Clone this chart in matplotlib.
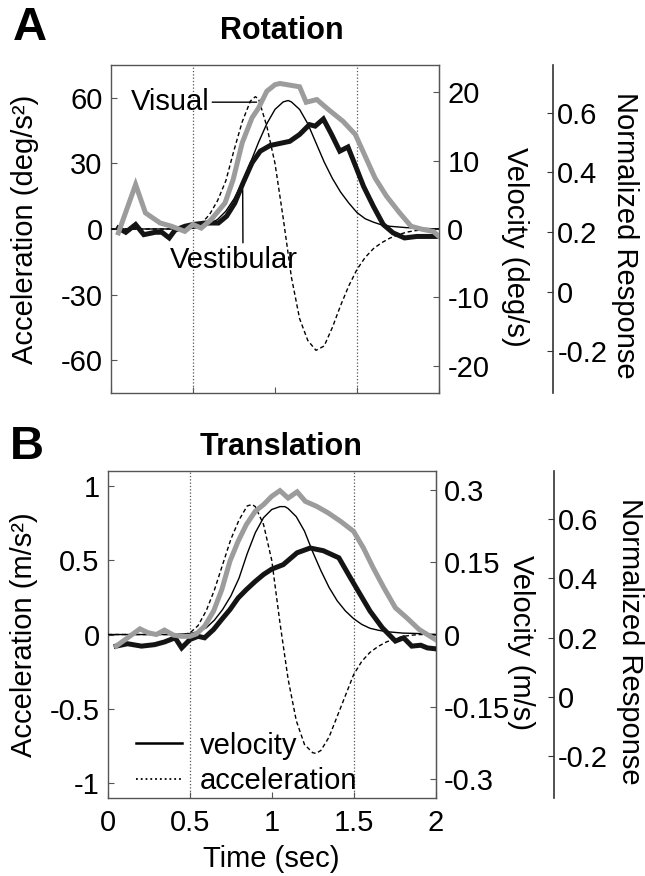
import matplotlib
matplotlib.use("Agg")
import matplotlib.pyplot as plt
from matplotlib.lines import Line2D

plt.rcParams['font.family'] = ['Liberation Sans', 'DejaVu Sans']

# ---- Rotation (panel A) ----
rot_vel_t = [0, 0.4, 0.5, 0.55, 0.6, 0.65, 0.7, 0.75, 0.8, 0.85, 0.9, 0.95, 1.0, 1.05,
             1.08, 1.1, 1.15, 1.2, 1.25, 1.3, 1.35, 1.4, 1.45, 1.5, 1.55, 1.6, 1.65,
             1.7, 1.75, 1.8, 1.9, 2.0]
rot_vel = [0, 0, 0.1, 0.3, 0.7, 1.4, 2.6, 4.4, 6.8, 9.7, 12.7, 15.4, 17.5, 18.6,
           18.8, 18.6, 17.5, 15.4, 12.6, 9.8, 7.4, 5.4, 3.8, 2.4, 1.5, 1.0, 0.6,
           0.4, 0.3, 0.2, 0.1, 0]

rot_acc_t = [0, 0.45, 0.5, 0.55, 0.6, 0.65, 0.7, 0.75, 0.8, 0.85, 0.88, 0.9, 0.95, 1.0,
             1.05, 1.1, 1.15, 1.2, 1.25, 1.3, 1.35, 1.4, 1.45, 1.5, 1.55, 1.6, 1.65,
             1.7, 1.75, 1.8, 1.85, 1.9, 2.0]
rot_acc = [0, 0, 0.5, 2.5, 6.5, 13, 22, 36, 49, 58.5, 60.5, 59.5, 47, 30,
           5, -22, -41, -51, -55.5, -53.5, -45, -35, -26, -18.5, -13, -9, -6.3,
           -4.2, -2.7, -1.5, -0.8, -0.4, 0]

rot_visual_t = [0.045, 0.15, 0.21, 0.30, 0.37, 0.45, 0.50, 0.55, 0.61, 0.695,
                0.745, 0.80, 0.86, 0.90, 0.95, 1.00, 1.03, 1.15, 1.19, 1.255,
                1.325, 1.415, 1.49, 1.55, 1.61, 1.68, 1.76, 1.83, 1.905, 1.965, 2.0]
rot_visual = [0.197, 0.359, 0.264, 0.230, 0.219, 0.202, 0.225, 0.213, 0.241, 0.297,
              0.376, 0.499, 0.583, 0.616, 0.672, 0.694, 0.698, 0.687, 0.635, 0.644,
              0.611, 0.571, 0.527, 0.454, 0.381, 0.320, 0.264, 0.219, 0.208, 0.202, 0.185]

rot_vest_t = [0.045, 0.09, 0.15, 0.20, 0.27, 0.31, 0.355, 0.39, 0.45, 0.50,
              0.575, 0.655, 0.705, 0.755, 0.805, 0.86, 0.91, 0.97, 1.09, 1.15,
              1.21, 1.245, 1.295, 1.345, 1.395, 1.445, 1.50, 1.54, 1.60, 1.66,
              1.72, 1.79, 1.865, 1.925, 2.0]
rot_vest = [0.213, 0.199, 0.225, 0.191, 0.199, 0.199, 0.180, 0.206, 0.219, 0.225,
            0.230, 0.230, 0.253, 0.297, 0.364, 0.432, 0.471, 0.490, 0.504, 0.527,
            0.560, 0.555, 0.579, 0.527, 0.471, 0.485, 0.409, 0.353, 0.286, 0.225,
            0.197, 0.180, 0.185, 0.185, 0.185]

# ---- Translation (panel B) ----
tr_vel_t = [0, 0.4, 0.5, 0.55, 0.6, 0.65, 0.7, 0.75, 0.8, 0.85, 0.9, 0.95, 1.0, 1.05,
            1.08, 1.1, 1.15, 1.2, 1.25, 1.3, 1.35, 1.4, 1.45, 1.5, 1.55, 1.6, 1.65,
            1.7, 1.8, 1.9, 2.0]
tr_vel = [0, 0, 0.002, 0.006, 0.014, 0.030, 0.052, 0.080, 0.117, 0.168, 0.212, 0.243,
          0.260, 0.266, 0.266, 0.262, 0.245, 0.215, 0.172, 0.133, 0.098, 0.070, 0.049,
          0.033, 0.021, 0.013, 0.009, 0.006, 0.003, 0.002, 0]

tr_acc_t = [0, 0.45, 0.5, 0.55, 0.6, 0.65, 0.7, 0.75, 0.8, 0.85, 0.88, 0.9, 0.95, 1.0,
            1.05, 1.1, 1.15, 1.2, 1.25, 1.27, 1.3, 1.35, 1.4, 1.45, 1.5, 1.55, 1.6,
            1.65, 1.7, 1.75, 1.8, 1.85, 1.9, 2.0]
tr_acc = [0, 0, 0.01, 0.06, 0.16, 0.30, 0.47, 0.64, 0.77, 0.865, 0.875, 0.86, 0.74, 0.50,
          0.08, -0.30, -0.58, -0.74, -0.795, -0.80, -0.78, -0.69, -0.55, -0.41, -0.27,
          -0.18, -0.12, -0.08, -0.05, -0.03, -0.013, -0.005, 0, 0]

tr_visual_t = [0.05, 0.12, 0.195, 0.245, 0.295, 0.345, 0.40, 0.45, 0.50, 0.54,
               0.59, 0.645, 0.695, 0.745, 0.795, 0.845, 0.90, 0.95, 1.00, 1.05,
               1.10, 1.155, 1.205, 1.275, 1.345, 1.42, 1.50, 1.56, 1.62, 1.685,
               1.755, 1.825, 1.90, 2.0]
tr_visual = [0.171, 0.199, 0.229, 0.216, 0.210, 0.225, 0.208, 0.204, 0.204, 0.212,
             0.238, 0.289, 0.361, 0.457, 0.524, 0.580, 0.625, 0.647, 0.675, 0.694,
             0.669, 0.690, 0.658, 0.641, 0.619, 0.591, 0.557, 0.501, 0.434, 0.367,
             0.300, 0.266, 0.227, 0.193]

tr_vest_t = [0.05, 0.12, 0.205, 0.285, 0.345, 0.41, 0.45, 0.50, 0.55, 0.59,
             0.645, 0.695, 0.745, 0.795, 0.845, 0.90, 0.95, 1.00, 1.07, 1.155,
             1.235, 1.315, 1.41, 1.48, 1.54, 1.60, 1.675, 1.755, 1.805, 1.855,
             1.91, 1.95, 2.0]
tr_vest = [0.171, 0.179, 0.171, 0.176, 0.185, 0.199, 0.165, 0.193, 0.204, 0.199,
           0.227, 0.261, 0.294, 0.333, 0.361, 0.389, 0.412, 0.430, 0.445, 0.485,
           0.501, 0.492, 0.468, 0.401, 0.345, 0.289, 0.233, 0.188, 0.199, 0.171,
           0.174, 0.165, 0.162]

event_times = [0.5, 1.5]
time_ticks = [0, 0.5, 1, 1.5, 2]
time_labels = ['0', '0.5', '1', '1.5', '2']
norm_ticks = [-0.2, 0, 0.2, 0.4, 0.6]
norm_labels = ['-0.2', '0', '0.2', '0.4', '0.6']

FS = 21
SPINE = '#555555'
GRAY = '#9c9c9c'

fig = plt.figure(figsize=(6.45, 8.76), dpi=100)


def panel(rect, acc_lim, acc_ticks, acc_labels, acc_name,
          vel_lim, vel_ticks, vel_labels, vel_name,
          label_x, norm_x, show_time):
    ax = fig.add_axes(rect)
    axv = ax.twinx()
    axn = ax.twinx()

    for s in ax.spines.values():
        s.set_color(SPINE)
        s.set_linewidth(1.0)
    for s in axv.spines.values():
        s.set_visible(False)
    axv.spines['right'].set_visible(True)
    axv.spines['right'].set_color(SPINE)
    for s in axn.spines.values():
        s.set_visible(False)
    axn.spines['right'].set_visible(True)
    axn.spines['right'].set_position(('axes', norm_x))
    axn.spines['right'].set_color('#333333')
    axn.spines['right'].set_linewidth(1.2)

    ax.set_xlim(0, 2)
    ax.set_ylim(*acc_lim)
    ax.set_yticks(acc_ticks)
    ax.set_yticklabels(acc_labels)
    ax.set_xticks(time_ticks)
    if show_time:
        ax.set_xticklabels(time_labels)
        ax.set_xlabel('Time (sec)', fontsize=FS, labelpad=6)
    else:
        ax.set_xticklabels([])
    ax.tick_params(axis='both', direction='in', length=4, labelsize=FS,
                   color=SPINE, pad=6)
    ax.tick_params(axis='x', pad=8)
    ax.set_ylabel(acc_name, fontsize=FS)
    ax.yaxis.set_label_coords(label_x[0], 0.5)

    axv.set_ylim(*vel_lim)
    axv.set_yticks(vel_ticks)
    axv.set_yticklabels(vel_labels)
    axv.tick_params(axis='y', direction='in', length=4, labelsize=FS,
                    color=SPINE, pad=6)
    axv.set_ylabel(vel_name, fontsize=FS, rotation=270, va='center')
    axv.yaxis.set_label_coords(label_x[1], label_x[2])

    axn.set_ylim(-0.34, 0.76)
    axn.set_yticks(norm_ticks)
    axn.set_yticklabels(norm_labels)
    axn.tick_params(axis='y', direction='in', length=4, labelsize=FS,
                    color='#333333', pad=3)
    axn.set_ylabel('Normalized Response', fontsize=FS, rotation=270, va='center')
    axn.yaxis.set_label_coords(label_x[3], label_x[4])

    for t in event_times:
        ax.axvline(t, color='#555555', ls=':', lw=0.9, zorder=1)
    return ax, axv, axn


# Panel A
axA, axAv, axAn = panel([0.1721, 0.5514, 0.5085, 0.3744],
                        (-75, 75), [-60, -30, 0, 30, 60], ['-60', '-30', '0', '30', '60'],
                        'Acceleration (deg/s²)',
                        (-24, 24), [-20, -10, 0, 10, 20], ['-20', '-10', '0', '10', '20'],
                        'Velocity (deg/s)',
                        (-0.22, 1.232, 0.445, 1.567, 0.482), 1.348, False)
axA.plot(rot_acc_t, rot_acc, color='k', lw=1.0, dashes=(3, 2))
axAv.plot(rot_vel_t, rot_vel, color='k', lw=1.0)
axAn.plot(rot_vest_t, rot_vest, color='#141414', lw=3.6, solid_joinstyle='miter')
axAn.plot(rot_visual_t, rot_visual, color=GRAY, lw=3.6, solid_joinstyle='miter')
axA.annotate('Visual', xy=(0.888, 58), xytext=(0.36, 58), fontsize=FS,
             ha='center', va='center',
             arrowprops=dict(arrowstyle='-', color='k', lw=1.0, shrinkA=0, shrinkB=0))
axA.annotate('Vestibular', xy=(0.803, 18), xytext=(0.75, -14), fontsize=FS,
             ha='center', va='center',
             arrowprops=dict(arrowstyle='-', color='k', lw=1.0, shrinkA=0, shrinkB=0,
                             relpos=(0.57, 1.0)))

# Panel B
axB, axBv, axBn = panel([0.1674, 0.0890, 0.5078, 0.3733],
                        (-1.1, 1.1), [-1, -0.5, 0, 0.5, 1], ['-1', '-0.5', '0', '0.5', '1'],
                        'Acceleration (m/s²)',
                        (-0.34, 0.34), [-0.3, -0.15, 0, 0.15, 0.3],
                        ['-0.3', '-0.15', '0', '0.15', '0.3'],
                        'Velocity (m/s)',
                        (-0.215, 1.261, 0.477, 1.594, 0.48), 1.362, True)
axB.plot(tr_acc_t, tr_acc, color='k', lw=1.0, dashes=(3, 2))
axBv.plot(tr_vel_t, tr_vel, color='k', lw=1.0)
axBn.plot(tr_vest_t, tr_vest, color='#141414', lw=3.6, solid_joinstyle='miter')
axBn.plot(tr_visual_t, tr_visual, color=GRAY, lw=3.6, solid_joinstyle='miter')

handles = [Line2D([], [], color='k', lw=1.8),
           Line2D([], [], color='k', lw=1.3, ls=':')]
axBn.legend(handles, ['velocity', 'acceleration'], loc='lower left',
            bbox_to_anchor=(0.04, -0.035), frameon=False, fontsize=FS,
            handlelength=1.6, handletextpad=0.6, labelspacing=0.25, borderaxespad=0.1)

fig.text(0.02, 0.968, 'A', fontsize=34, fontweight='bold', ha='left', va='center')
fig.text(0.437, 0.965, 'Rotation', fontsize=22, fontweight='bold', ha='center', va='center')
fig.text(0.015, 0.490, 'B', fontsize=34, fontweight='bold', ha='left', va='center')
fig.text(0.436, 0.490, 'Translation', fontsize=22, fontweight='bold', ha='center', va='center')

fig.savefig('out.png', dpi=100)
